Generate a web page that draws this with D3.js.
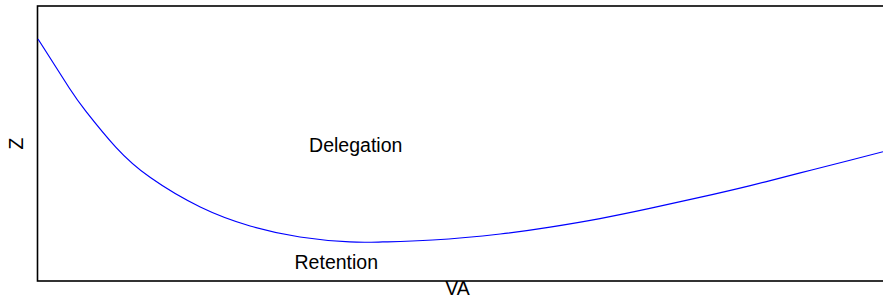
<!DOCTYPE html>
<html>
<head>
<meta charset="utf-8">
<script src="https://cdn.jsdelivr.net/npm/d3@7"></script>
<style>
  html, body { margin: 0; padding: 0; background: #fff; }
  text { font-family: "Liberation Sans", Arial, sans-serif; fill: #000; }
</style>
</head>
<body>
<svg id="chart" width="883" height="296"></svg>
<script>
// threshold curve (VA 0..10, Z 0..10)
const va = [0, 0.37, 0.57, 0.92, 1.33, 1.92, 2.51, 3.10, 3.69, 4.08, 4.67, 5.47, 6.06, 6.65, 7.24, 7.83, 8.43, 9.02, 9.61, 10];
const z  = [8.80, 7.02, 6.16, 4.87, 3.76, 2.69, 2.00, 1.60, 1.42, 1.42, 1.49, 1.71, 1.96, 2.27, 2.64, 3.04, 3.47, 3.93, 4.39, 4.70];

const regionLabels = [
    {name: 'Delegation', va: 3.76, z: 4.95},
    {name: 'Retention',  va: 3.53, z: 0.68}
];
const xTitle = 'VA';
const yTitle = 'Z';

const svg = d3.select('#chart');
const margin = {left: 38, top: 6, right: 0, bottom: 15};
const W = 883, H = 296;

var scale =
{
    x: d3.scaleLinear().domain([0, 10]).range([margin.left, W - margin.right]),
    y: d3.scaleLinear().domain([0, 10]).range([H - margin.bottom, margin.top])
};

// frame (right side runs off the page)
svg.append('rect')
    .attr('x', scale.x(0) - 0.5)
    .attr('y', scale.y(10))
    .attr('width', W + 10)
    .attr('height', scale.y(0) - scale.y(10))
    .attr('fill', 'none')
    .attr('stroke', '#000')
    .attr('stroke-width', 1.6);

var lineGenerator = d3.line().curve(d3.curveNatural)
    .x(function(d) { return scale.x(d[0]); })
    .y(function(d) { return scale.y(d[1]); });

svg.append('path')
    .attr('d', lineGenerator(va.map((v, i) => [v, z[i]])))
    .attr('fill', 'none')
    .attr('stroke', '#0000ff')
    .attr('stroke-width', 1.2);

svg.selectAll('.region')
    .data(regionLabels)
    .enter().append('text')
    .attr('class', 'region')
    .attr('x', d => scale.x(d.va))
    .attr('y', d => scale.y(d.z))
    .attr('font-size', 19.5)
    .attr('text-anchor', 'middle')
    .attr('dominant-baseline', 'central')
    .text(d => d.name);

svg.append('text')
    .attr('x', scale.x(5) - 3)
    .attr('y', 295)
    .attr('font-size', 19.5)
    .attr('text-anchor', 'middle')
    .text(xTitle);

svg.append('text')
    .attr('transform', 'translate(23,' + scale.y(5) + ') rotate(-90)')
    .attr('font-size', 19.5)
    .attr('text-anchor', 'middle')
    .text(yTitle);
</script>
</body>
</html>
